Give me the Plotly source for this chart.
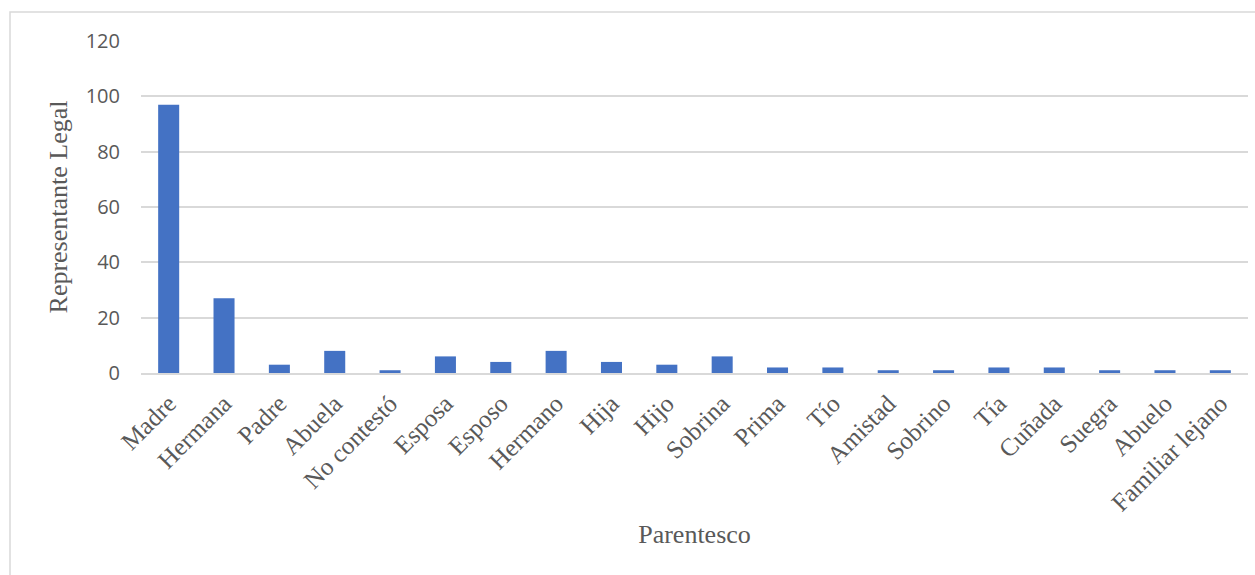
import plotly.graph_objects as go

categories = ["Madre", "Hermana", "Padre", "Abuela", "No contestó", "Esposa", "Esposo",
              "Hermano", "Hija", "Hijo", "Sobrina", "Prima", "Tío", "Amistad", "Sobrino",
              "Tía", "Cuñada", "Suegra", "Abuelo", "Familiar lejano"]
values = [97, 27, 3, 8, 1, 6, 4, 8, 4, 3, 6, 2, 2, 1, 1, 2, 2, 1, 1, 1]
y_ticks = [0, 20, 40, 60, 80, 100, 120]

W, H = 1255, 575
ml, mr, mt, mb = 141, 7, 41, 202

fig = go.Figure(go.Bar(x=categories, y=values, marker=dict(color="#4472C4", line=dict(width=0))))

pw = W - ml - mr
ph = H - mt - mb
x0 = (10 - ml) / pw
x1 = (W + 5 - ml) / pw
y1 = (H - 12 - mb) / ph
y0 = (-5 - mb) / ph

serif = "Liberation Serif, Times New Roman, serif"

fig.update_layout(
    width=W, height=H,
    margin=dict(l=ml, r=mr, t=mt, b=mb, pad=0),
    paper_bgcolor="white", plot_bgcolor="white",
    bargap=0.62,
    showlegend=False,
    xaxis=dict(
        tickangle=-45,
        tickfont=dict(family=serif, size=25, color="#595959"),
        showgrid=False,
        showline=True, linecolor="#D9D9D9", linewidth=2,
        ticks="",
        ticklabelstandoff=4,
        title=dict(text="Parentesco", font=dict(family=serif, size=26, color="#595959"), standoff=9),
    ),
    yaxis=dict(
        range=[0, 120],
        tickvals=y_ticks,
        tickfont=dict(family="Open Sans, sans-serif", size=20, color="#595959"),
        showgrid=True, gridcolor="#D9D9D9", gridwidth=1.5,
        zeroline=False,
        showline=False,
        ticks="",
        ticklabelstandoff=20,
        title=dict(text="Representante Legal", font=dict(family=serif, size=26, color="#595959"), standoff=10),
    ),
    shapes=[dict(type="rect", xref="paper", yref="paper", x0=x0, x1=x1, y0=y0, y1=y1,
                 line=dict(color="#D9D9D9", width=1.5), fillcolor="rgba(0,0,0,0)", layer="below")],
)

fig.write_html("out.html", config={"displayModeBar": False},
               post_script="document.body.style.margin='0';document.body.style.overflow='hidden';")
